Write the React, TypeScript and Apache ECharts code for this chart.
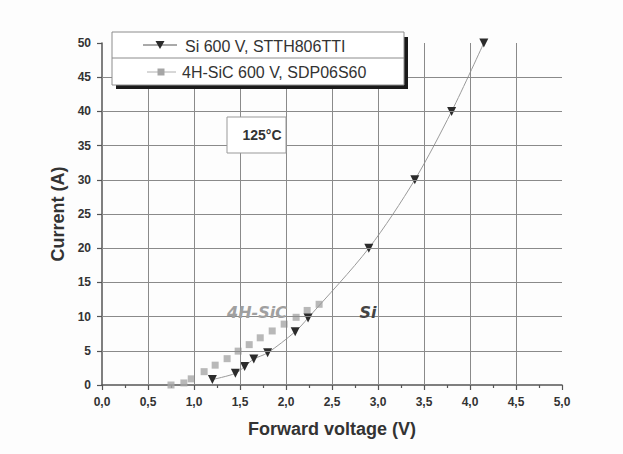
import React, { useEffect, useRef } from "react";
import * as echarts from "echarts";

// Si 600 V, STTH806TTI (forward voltage V, current A)
const siVoltage = [1.2, 1.45, 1.55, 1.65, 1.8, 2.1, 2.24, 2.9, 3.4, 3.8, 4.15];
const siCurrent = [0.8, 1.7, 2.7, 3.8, 4.7, 7.8, 9.8, 20, 30, 40, 50];

// 4H-SiC 600 V, SDP06S60
const sicVoltage = [0.75, 0.89, 0.97, 1.11, 1.23, 1.36, 1.48, 1.6, 1.72, 1.85, 1.98, 2.11, 2.23, 2.36];
const sicCurrent = [0, 0.3, 0.9, 1.95, 2.9, 3.85, 4.95, 5.9, 6.9, 7.9, 8.9, 9.9, 10.9, 11.8];

// inner grid lines (tick values)
const voltageGrid = [0.5, 1.0, 1.5, 2.0, 2.5, 3.0, 3.5, 4.0, 4.5];
const currentGrid = [5, 10, 15, 20, 25, 30, 35, 40, 45];

const legendSi = "Si 600 V, STTH806TTI";
const legendSiC = "4H-SiC 600 V, SDP06S60";
const tempLabel = "125°C";

const FONT = "'Liberation Sans', Arial, sans-serif";

export default function App() {
  const ref = useRef<HTMLDivElement>(null);

  useEffect(() => {
    if (!ref.current) return;
    const chart = echarts.init(ref.current, null, { renderer: "svg" });

    const siData = siVoltage.map((v, i) => [v, siCurrent[i]]);
    const sicData = sicVoltage.map((v, i) => [v, sicCurrent[i]]);

    const markData = [
      ...voltageGrid.map((v) => ({ xAxis: v })),
      ...currentGrid.map((c) => ({ yAxis: c })),
    ];

    chart.setOption({
      animation: false,
      backgroundColor: "#fdfdfd",
      textStyle: { fontFamily: FONT },
      grid: { left: 102, right: 61, top: 43, bottom: 69, containLabel: false },
      xAxis: {
        type: "value",
        min: 0,
        max: 5,
        interval: 0.5,
        name: "Forward voltage (V)",
        nameLocation: "middle",
        nameGap: 35,
        nameTextStyle: { fontSize: 18, fontWeight: "bold", color: "#333", fontFamily: FONT },
        axisLine: { show: true, lineStyle: { color: "#555", width: 1.5 } },
        axisTick: { show: true, inside: false, length: 5, lineStyle: { color: "#555", width: 1.2 } },
        minorTick: { show: true, splitNumber: 2, length: 3, lineStyle: { color: "#555", width: 1.2 } },
        axisLabel: {
          margin: 11,
          fontSize: 12,
          fontWeight: "bold",
          color: "#333",
          fontFamily: FONT,
          formatter: (v: number) => v.toFixed(1).replace(".", ","),
        },
        splitLine: { show: false },
      },
      yAxis: {
        type: "value",
        min: 0,
        max: 50,
        interval: 5,
        name: "Current (A)",
        nameLocation: "middle",
        nameGap: 31,
        nameTextStyle: { fontSize: 18, fontWeight: "bold", color: "#333", fontFamily: FONT },
        axisLine: { show: true, lineStyle: { color: "#555", width: 1.5 } },
        axisTick: { show: true, inside: false, length: 5, lineStyle: { color: "#555", width: 1.2 } },
        axisLabel: {
          margin: 11,
          fontSize: 12,
          fontWeight: "bold",
          color: "#333",
          fontFamily: FONT,
        },
        splitLine: { show: false },
      },
      series: [
        {
          type: "line",
          data: [],
          z: 1,
          silent: true,
          markLine: {
            silent: true,
            symbol: ["none", "none"],
            label: { show: false },
            lineStyle: { color: "#8a8a8a", width: 1, type: "solid" },
            emphasis: { disabled: true },
            data: markData,
          },
        },
        {
          name: legendSiC,
          type: "scatter",
          data: sicData,
          z: 3,
          symbol: "rect",
          symbolSize: 7,
          itemStyle: { color: "#a6a6a6" },
        },
        {
          name: legendSi,
          type: "line",
          data: siData,
          z: 4,
          smooth: 0.3,
          symbol: "triangle",
          symbolRotate: 180,
          symbolSize: 9,
          lineStyle: { color: "#9a9a9a", width: 1 },
          itemStyle: { color: "#2b2b2b" },
        },
      ],
      graphic: [
        // legend shadow
        { type: "rect", shape: { x: 116, y: 37, width: 292, height: 52 }, style: { fill: "#1a1a1a" }, z: 10 },
        // legend box
        { type: "rect", shape: { x: 112, y: 32, width: 292, height: 53 }, style: { fill: "#ffffff", stroke: "#8c8c8c", lineWidth: 1 }, z: 11 },
        { type: "line", shape: { x1: 112, y1: 58, x2: 404, y2: 58 }, style: { stroke: "#8c8c8c", lineWidth: 1 }, z: 12 },
        // row 1
        { type: "line", shape: { x1: 143, y1: 45, x2: 177, y2: 45 }, style: { stroke: "#555", lineWidth: 1 }, z: 12 },
        { type: "polygon", shape: { points: [[155.5, 41], [164.5, 41], [160, 49]] }, style: { fill: "#2b2b2b" }, z: 13 },
        { type: "text", x: 185, y: 46, style: { text: legendSi, font: `16px ${FONT}`, fill: "#333", verticalAlign: "middle" }, z: 13 },
        // row 2
        { type: "line", shape: { x1: 147, y1: 72, x2: 176, y2: 72 }, style: { stroke: "#b0b0b0", lineWidth: 1 }, z: 12 },
        { type: "rect", shape: { x: 157.5, y: 68.5, width: 7, height: 7 }, style: { fill: "#a6a6a6" }, z: 13 },
        { type: "text", x: 182, y: 72, style: { text: legendSiC, font: `16px ${FONT}`, fill: "#333", verticalAlign: "middle" }, z: 13 },
        // temperature box
        { type: "rect", shape: { x: 227, y: 117, width: 59, height: 36 }, style: { fill: "#ffffff", stroke: "#999", lineWidth: 1 }, z: 10 },
        { type: "text", x: 262, y: 135, style: { text: tempLabel, font: `bold 14px ${FONT}`, fill: "#333", align: "center", verticalAlign: "middle" }, z: 11 },
        // curve labels
        { type: "text", x: 257, y: 312, style: { text: "4H-SiC", font: `italic bold 16px 'DejaVu Sans', ${FONT}`, fill: "#a0a0a0", align: "center", verticalAlign: "middle" }, z: 10 },
        { type: "text", x: 368, y: 312, style: { text: "Si", font: `italic bold 16px 'DejaVu Sans', ${FONT}`, fill: "#444", align: "center", verticalAlign: "middle" }, z: 10 },
      ],
    });

    return () => chart.dispose();
  }, []);

  return (
    <div
      ref={ref}
      style={{ position: "fixed", left: 0, top: 0, width: 623, height: 454 }}
    />
  );
}
